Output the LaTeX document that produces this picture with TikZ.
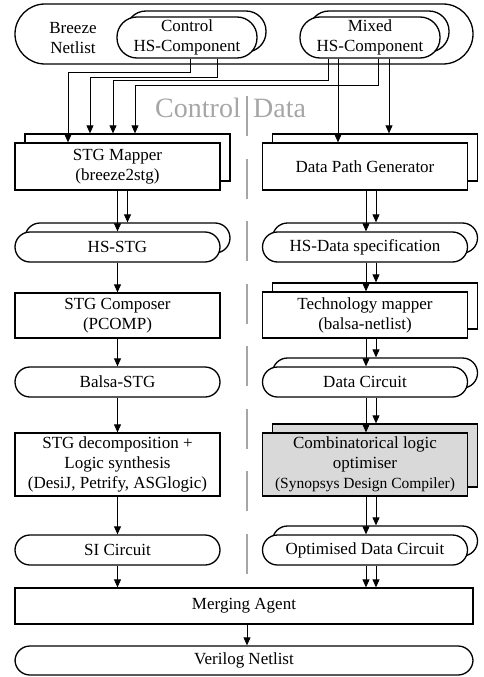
\documentclass[tikz,border=0pt]{standalone}
\usepackage{fontspec}
\setmainfont{Liberation Serif}
\usetikzlibrary{arrows.meta,shadows}
\definecolor{divgray}{HTML}{A6A6A6}
\definecolor{optfill}{HTML}{D9D9D9}
\begin{document}
\begin{tikzpicture}[x=1pt, y=-1pt,
  every node/.style={font=\fontsize{17}{20}\selectfont, align=center, inner sep=0pt},
  box/.style={draw, line width=1.3pt, fill=white, minimum width=205pt},
  pill/.style={box, rounded corners=15pt, minimum height=30pt},
  stack/.style={copy shadow={shadow xshift=10pt, shadow yshift=9pt}},
  hsstack/.style={copy shadow={shadow xshift=9pt, shadow yshift=6pt}},
  arr/.style={-{Triangle[length=8pt, width=7pt]}, line width=0.8pt}]
\useasboundingbox (0,0) rectangle (483,677);

% breeze netlist
\node[pill, minimum width=458pt, minimum height=60pt, rounded corners=30pt] (breeze) at (244,34) {};
\node (breezetxt) at (73,38) {Breeze\\Netlist};
\node[pill, hsstack, minimum width=140pt, minimum height=41pt, rounded corners=20pt] (ctrlhs) at (187,37.5) {Control\\HS-Component};
\node[pill, hsstack, minimum width=140pt, minimum height=41pt, rounded corners=20pt] (mixedhs) at (370,37.5) {Mixed\\HS-Component};

% divider
\draw[divgray, line width=1.5pt, dash pattern=on 40pt off 22.5pt] (247,96) -- (247,574);
\node[divgray, font=\fontsize{28}{30}\selectfont, anchor=east] (ctrllbl) at (241,108) {Control};
\node[divgray, font=\fontsize{28}{30}\selectfont, anchor=west] (datalbl) at (253,108) {Data};

% control side
\node[box, stack, minimum height=47pt] (mapper) at (117.5,166.5) {STG Mapper\\(breeze2stg)};
\node[pill, stack] (hsstg) at (117.5,247) {HS-STG};
\node[box, minimum height=45pt] (composer) at (117.5,315.5) {STG Composer\\(PCOMP)};
\node[pill] (balsastg) at (117.5,382) {Balsa-STG};
\node[box, minimum height=63pt] (decomp) at (117.5,464.5) {STG decomposition +\\Logic synthesis\\(DesiJ, Petrify, ASGlogic)};
\node[pill] (sicirc) at (117.5,550) {SI Circuit};

% data side
\node[box, stack, minimum height=47pt] (dpg) at (365,166.5) {Data Path Generator};
\node[pill, stack] (hsdata) at (365,247) {HS-Data specification};
\node[box, stack, minimum height=46pt] (techmap) at (365,315) {Technology mapper\\(balsa-netlist)};
\node[pill, stack] (datacirc) at (365,382) {Data Circuit};
\node[box, stack, fill=optfill, minimum height=63pt] (optim) at (365,464.5) {Combinatorical logic\\optimiser\\{\fontsize{15.5}{20}\selectfont (Synopsys Design Compiler)}};
\node[pill, stack] (optcirc) at (365,550) {Optimised Data Circuit};

% merge
\node[box, minimum width=458pt, minimum height=36pt] (merge) at (244,606) {Merging Agent};
\node[pill, minimum width=458pt, minimum height=29pt] (verilog) at (244,660.5) {Verilog Netlist};

% components to generators
\draw[arr] ([xshift=3pt]ctrlhs.south) -- ++(0,14) -| ([xshift=-49.5pt]mapper.north);
\draw[arr] ([xshift=30pt]ctrlhs.south) -- ++(0,19) -| ([xshift=-27.5pt, yshift=9pt]mapper.north);
\draw[arr] ([xshift=-42pt]mixedhs.south) -- ++(0,22) -| ([xshift=-4.5pt, yshift=9pt]mapper.north);
\draw[arr] ([xshift=8pt]mixedhs.south) -- ++(0,27) -| ([xshift=17.5pt, yshift=9pt]mapper.north);
\draw[arr] ([xshift=-32pt]mixedhs.south) -- ([xshift=-27pt]dpg.north);
\draw[arr] ([xshift=19pt]mixedhs.south) -- ([xshift=24pt, yshift=9pt]dpg.north);

% flows
\draw[arr] (mapper.south) -- (hsstg.north);
\draw[arr] ([xshift=10pt]mapper.south) -- ([xshift=10pt, yshift=9pt]hsstg.north);
\foreach \a/\b in {hsstg/composer, composer/balsastg, balsastg/decomp, decomp/sicirc}
  \draw[arr] (\a.south) -- (\b.north);
\foreach \a/\b in {dpg/hsdata, hsdata/techmap, techmap/datacirc, datacirc/optim, optim/optcirc} {
  \draw[arr] ([xshift=1pt]\a.south) -- ([xshift=1pt]\b.north);
  \draw[arr] ([xshift=11pt]\a.south) -- ([xshift=11pt, yshift=9pt]\b.north);
}
\draw[arr] (sicirc.south) -- (sicirc.south |- merge.north);
\draw[arr] ([xshift=1pt]optcirc.south) -- ([xshift=1pt]optcirc.south |- merge.north);
\draw[arr] ([xshift=11pt]optcirc.south) -- ([xshift=11pt]optcirc.south |- merge.north);
\draw[arr] ([xshift=3pt]merge.south) -- ([xshift=3pt]verilog.north);
\end{tikzpicture}
\end{document}
